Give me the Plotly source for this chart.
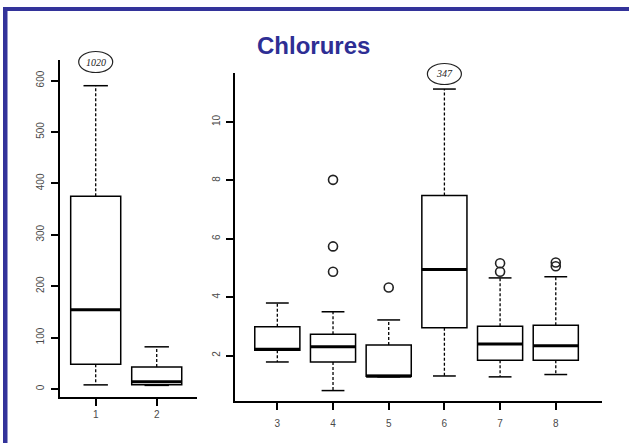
import plotly.graph_objects as go

W, H = 629, 443

# ---------------- data ----------------
title_text = "Chlorures"

left_pos = [1, 2]
left_lower = [8, 7]
left_q1 = [48, 8]
left_median = [154, 14]
left_q3 = [375, 43]
left_upper = [590, 82]
left_ticks = [0, 100, 200, 300, 400, 500, 600]

right_pos = [3, 4, 5, 6, 7, 8]
right_lower = [1.78, 0.80, 1.27, 1.30, 1.27, 1.35]
right_q1 = [2.18, 1.78, 1.29, 2.95, 1.84, 1.84]
right_median = [2.22, 2.30, 1.29, 4.95, 2.40, 2.34]
right_q3 = [2.99, 2.73, 2.36, 7.48, 3.00, 3.04]
right_upper = [3.80, 3.50, 3.22, 11.13, 4.66, 4.70]
right_ticks = [2, 4, 6, 8, 10]

outlier_pos = [4, 4, 4, 5, 7, 7, 8, 8]
outlier_val = [4.87, 5.74, 8.02, 4.33, 4.87, 5.16, 5.06, 5.19]

note_left = ("1020", 1)
note_right = ("347", 6)

# ---------------- helpers ----------------
def px(x):
    return x / W

def py(y):
    return 1 - y / H

fig = go.Figure()


def add_panel(xa, ya, pos, lo, q1, med, q3, up, bw, cw):
    fig.add_trace(go.Box(
        x=pos, q1=q1, median=med, q3=q3, lowerfence=q1, upperfence=q3,
        width=bw, whiskerwidth=0, fillcolor="white",
        line=dict(color="black", width=1.5), boxpoints=False,
        xaxis=xa, yaxis=ya, hoverinfo="skip", showlegend=False))
    wx, wy, cx, cy, mx, my = [], [], [], [], [], []
    for p, l, a, m, b, u in zip(pos, lo, q1, med, q3, up):
        wx += [p, p, None, p, p, None]
        wy += [b, u, None, a, l, None]
        cx += [p - cw / 2, p + cw / 2, None, p - cw / 2, p + cw / 2, None]
        cy += [u, u, None, l, l, None]
        mx += [p - bw / 2, p + bw / 2, None]
        my += [m, m, None]
    fig.add_trace(go.Scatter(x=wx, y=wy, mode="lines", xaxis=xa, yaxis=ya,
                             line=dict(color="black", width=1.3, dash="3px,2px"),
                             hoverinfo="skip", showlegend=False))
    fig.add_trace(go.Scatter(x=cx, y=cy, mode="lines", xaxis=xa, yaxis=ya,
                             line=dict(color="black", width=1.5),
                             hoverinfo="skip", showlegend=False))
    fig.add_trace(go.Scatter(x=mx, y=my, mode="lines", xaxis=xa, yaxis=ya,
                             line=dict(color="black", width=3),
                             hoverinfo="skip", showlegend=False))


add_panel("x", "y", left_pos, left_lower, left_q1, left_median, left_q3,
          left_upper, 0.82, 0.40)
add_panel("x2", "y2", right_pos, right_lower, right_q1, right_median, right_q3,
          right_upper, 0.81, 0.41)

fig.add_trace(go.Scatter(x=outlier_pos, y=outlier_val, mode="markers",
                         xaxis="x2", yaxis="y2",
                         marker=dict(symbol="circle-open", size=9, color="#222",
                                     line=dict(width=1.6, color="#222")),
                         hoverinfo="skip", showlegend=False))

tickfont = dict(family="Liberation Sans, Arial, sans-serif", size=10, color="#4a4a4a")
axcommon = dict(showline=True, linewidth=2, linecolor="black", ticks="outside",
                ticklen=7, tickwidth=1.5, tickcolor="black", showgrid=False,
                zeroline=False, tickfont=tickfont, fixedrange=True)

# pixel geometry
L_x0, L_x1, L_y0, L_y1 = 60, 197, 60, 397
R_x0, R_x1, R_y0, R_y1 = 235, 602, 73, 401

fig.update_layout(
    width=W, height=H, autosize=False,
    margin=dict(l=0, r=0, t=0, b=0),
    paper_bgcolor="white", plot_bgcolor="white",
    showlegend=False,
    xaxis=dict(domain=[px(L_x0), px(L_x1)], range=[0.415, 2.66],
               tickvals=left_pos, ticktext=[str(p) for p in left_pos],
               anchor="y", ticklabelstandoff=0, **axcommon),
    yaxis=dict(domain=[py(L_y1), py(L_y0)], range=[-15.6, 640],
               tickvals=left_ticks, tickangle=-90, anchor="x",
               ticklabelstandoff=3, **axcommon),
    xaxis2=dict(domain=[px(R_x0), px(R_x1)], range=[2.24, 8.83],
                tickvals=right_pos, ticktext=[str(p) for p in right_pos],
                anchor="y2", ticklabelstandoff=5, **axcommon),
    yaxis2=dict(domain=[py(R_y1), py(R_y0)], range=[0.443, 11.68],
                tickvals=right_ticks, tickangle=-90, anchor="x2",
                ticklabelstandoff=2, **axcommon),
)

# frame (blue border, top and left)
frame_col = "#33339a"
fig.add_shape(type="rect", xref="paper", yref="paper", x0=px(3), x1=1,
              y0=py(11), y1=py(7), fillcolor=frame_col, line=dict(width=0),
              layer="above")
fig.add_shape(type="rect", xref="paper", yref="paper", x0=px(3), x1=px(7.5),
              y0=0, y1=py(7), fillcolor=frame_col, line=dict(width=0),
              layer="above")

# title
fig.add_annotation(text="<b>" + title_text + "</b>", xref="paper", yref="paper",
                   x=px(313), y=py(45), xanchor="center", yanchor="middle",
                   showarrow=False,
                   font=dict(family="Liberation Sans, Arial, sans-serif",
                             size=24, color="#2e2e94"))

# ellipse notes
for (txt, pos), xa, ycen in [(note_left, "x", 62), (note_right, "x2", 74)]:
    fig.add_shape(type="circle", xref=xa, yref="paper", xsizemode="pixel",
                  ysizemode="pixel", xanchor=pos, yanchor=py(ycen),
                  x0=-17, x1=17, y0=-10.5, y1=10.5,
                  line=dict(color="#222", width=1.2), fillcolor="rgba(0,0,0,0)")
    fig.add_annotation(text=txt, xref=xa, yref="paper", x=pos, y=py(ycen),
                       xanchor="center", yanchor="middle", showarrow=False,
                       font=dict(family="Liberation Serif, Times New Roman, serif",
                                 size=10, color="#222", style="italic"))

fig.write_html("out.html",
               config={"displayModeBar": False},
               post_script="document.body.style.margin='0px';"
                           "document.body.style.overflow='hidden';")
